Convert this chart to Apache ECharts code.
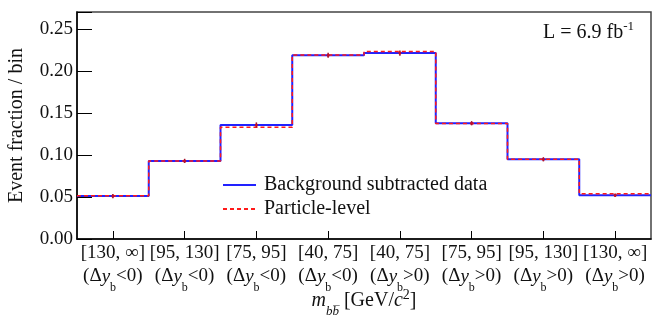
<!DOCTYPE html>
<html><head><meta charset="utf-8">
<script src="https://cdn.jsdelivr.net/npm/echarts@6/dist/echarts.min.js"></script>
<style>html,body{margin:0;padding:0;background:#fff}#c{width:662px;height:318px}</style>
</head><body><div id="c"></div>
<script>
const massBins = ['[130, ∞]', '[95, 130]', '[75, 95]', '[40, 75]', '[40, 75]', '[75, 95]', '[95, 130]', '[130, ∞]'];
const dySigns = ['<', '<', '<', '<', '>', '>', '>', '>'];
const dataValues = [0.0510, 0.0929, 0.1357, 0.2186, 0.2211, 0.1377, 0.0948, 0.0520];
const dataErrors = [0.0025, 0.0025, 0.0030, 0.0030, 0.0030, 0.0025, 0.0025, 0.0020];
const particleValues = [0.0515, 0.0929, 0.1330, 0.2188, 0.2230, 0.1375, 0.0949, 0.0539];
const yMin = 0, yMax = 0.27, yStep = 0.05;
const FONT = 'Liberation Serif';

function stepData(vals) {
  const d = vals.map((v, i) => [i, v]);
  d.push([vals.length, vals[vals.length - 1]]);
  return d;
}
const errData = dataValues.map((v, i) => [i + 0.5, v, dataErrors[i]]);

const chart = echarts.init(document.getElementById('c'), null, {renderer: 'canvas'});
chart.setOption({
  animation: false,
  backgroundColor: '#fff',
  grid: {left: 77, right: 11, top: 12, bottom: 79, show: true, borderColor: '#444', borderWidth: 1.5,
         containLabel: false, outerBoundsMode: 'none'},
  legend: {
    left: 222, top: 175, orient: 'vertical', padding: 0, itemGap: 4,
    itemWidth: 33, itemHeight: 14,
    itemStyle: {opacity: 0},
    textStyle: {fontFamily: FONT, fontSize: 20, color: '#111', padding: [0, 0, 0, 3]},
    data: ['Background subtracted data', 'Particle-level']
  },
  xAxis: [
    {type: 'value', min: 0, max: massBins.length, show: false},
    {
      type: 'category', position: 'bottom', data: massBins, boundaryGap: true,
      axisLine: {show: true, lineStyle: {color: '#000', width: 1.5}},
      axisTick: {show: true, inside: true, length: 8, alignWithLabel: true, lineStyle: {color: '#000', width: 1}},
      axisLabel: {
        margin: 3, interval: 0, color: '#111', fontFamily: FONT, fontSize: 19, lineHeight: 23,
        formatter: (val, i) => val + '\n(Δ{it|y}{sub|b}' + dySigns[i] + '0)',
        rich: {
          it: {fontFamily: FONT, fontSize: 19, fontStyle: 'italic', lineHeight: 23, color: '#111'},
          sub: {fontFamily: FONT, fontSize: 12, lineHeight: 0, padding: [22, 0, 0, 0], color: '#111'}
        }
      },
      name: '{it|m}{sub|bb\u0305} [GeV/{it|c}{sup|2}]',
      nameLocation: 'middle', nameGap: 52, nameMoveOverlap: false,
      nameTextStyle: {
        fontFamily: FONT, fontSize: 20, color: '#111',
        rich: {
          it: {fontFamily: FONT, fontSize: 20, fontStyle: 'italic', color: '#111'},
          sub: {fontFamily: FONT, fontSize: 13, fontStyle: 'italic', lineHeight: 0, padding: [22, 0, 0, 0], color: '#111'},
          sup: {fontFamily: FONT, fontSize: 14, lineHeight: 0, padding: [0, 0, 12, 0], color: '#111'}
        }
      }
    }
  ],
  yAxis: {
    type: 'value', min: yMin, max: yMax, interval: yStep,
    axisLine: {show: true, lineStyle: {color: '#000', width: 1.5}},
    axisTick: {show: true, inside: true, length: 15, lineStyle: {color: '#000', width: 1}},
    splitLine: {show: false},
    axisLabel: {
      margin: 4, color: '#111', fontFamily: FONT, fontSize: 19,
      formatter: v => Math.abs(v / yStep - Math.round(v / yStep)) < 1e-6 ? v.toFixed(2) : ''
    },
    name: 'Event fraction / bin', nameLocation: 'middle', nameGap: 50, nameMoveOverlap: false,
    nameTextStyle: {fontFamily: FONT, fontSize: 20, color: '#111'}
  },
  graphic: [{
    type: 'text', left: 543, top: 20,
    style: {
      text: 'L = 6.9 fb{sup|-1}', fontFamily: FONT, fontSize: 20, fill: '#111',
      rich: {sup: {fontFamily: FONT, fontSize: 13, fill: '#111', lineHeight: 0, padding: [0, 0, 12, 0]}}
    }
  }],
  series: [
    {
      name: 'Background subtracted data', type: 'line', xAxisIndex: 0, step: 'end',
      data: stepData(dataValues), symbol: 'none', z: 2,
      lineStyle: {color: '#2222ff', width: 2}, itemStyle: {color: '#2222ff'}
    },
    {
      name: 'Particle-level', type: 'line', xAxisIndex: 0, step: 'end',
      data: stepData(particleValues), symbol: 'none', z: 3,
      lineStyle: {color: '#ff1a1a', width: 1.5, type: [4, 3]}, itemStyle: {color: '#ff1a1a'}
    },
    {
      name: 'errors', type: 'custom', xAxisIndex: 0, z: 4,
      data: errData,
      renderItem: (params, api) => {
        const x = api.value(0), v = api.value(1), e = api.value(2);
        const p1 = api.coord([x, v - e]);
        const p2 = api.coord([x, v + e]);
        const pc = api.coord([x, v]);
        return {
          type: 'group', children: [
            {type: 'line', shape: {x1: p1[0], y1: p1[1], x2: p2[0], y2: p2[1]}, style: {stroke: '#a0102a', lineWidth: 1.5}},
            {type: 'circle', shape: {cx: pc[0], cy: pc[1], r: 1.5}, style: {fill: '#c0102a'}}
          ]
        };
      }
    }
  ]
});
</script></body></html>
